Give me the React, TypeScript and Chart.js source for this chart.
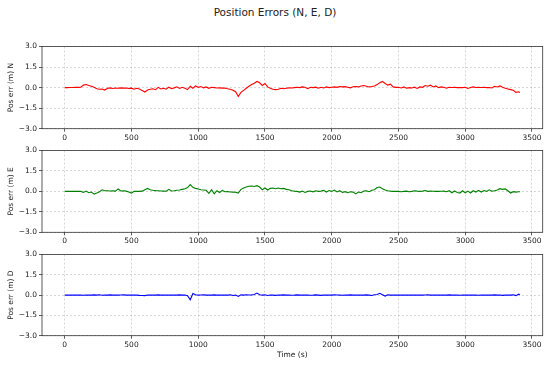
import React, { useEffect, useRef } from 'react';
import { Chart, registerables } from 'chart.js';

Chart.register(...registerables);

const TIME = [
  0, 20, 40, 60, 80, 100, 120, 140, 160, 180,
  200, 220, 240, 260, 280, 300, 320, 340, 360, 380,
  400, 420, 440, 460, 480, 500, 520, 540, 560, 580,
  600, 620, 640, 660, 680, 700, 720, 740, 760, 780,
  800, 820, 840, 860, 880, 900, 920, 940, 960, 980,
  1000, 1020, 1040, 1060, 1080, 1100, 1120, 1140, 1160, 1180,
  1200, 1220, 1240, 1260, 1280, 1300, 1320, 1340, 1360, 1380,
  1400, 1420, 1440, 1460, 1480, 1500, 1520, 1540, 1560, 1580,
  1600, 1620, 1640, 1660, 1680, 1700, 1720, 1740, 1760, 1780,
  1800, 1820, 1840, 1860, 1880, 1900, 1920, 1940, 1960, 1980,
  2000, 2020, 2040, 2060, 2080, 2100, 2120, 2140, 2160, 2180,
  2200, 2220, 2240, 2260, 2280, 2300, 2320, 2340, 2360, 2380,
  2400, 2420, 2440, 2460, 2480, 2500, 2520, 2540, 2560, 2580,
  2600, 2620, 2640, 2660, 2680, 2700, 2720, 2740, 2760, 2780,
  2800, 2820, 2840, 2860, 2880, 2900, 2920, 2940, 2960, 2980,
  3000, 3020, 3040, 3060, 3080, 3100, 3120, 3140, 3160, 3180,
  3200, 3220, 3240, 3260, 3280, 3300, 3320, 3340, 3360, 3380,
  3400, 3410,
];

const ERR_N = [
  0.00, 0.00, 0.01, 0.01, 0.02, 0.02, 0.03, 0.18, 0.22, 0.15,
  0.10, 0.02, -0.08, -0.12, -0.10, -0.18, -0.05, -0.02, -0.06, -0.03,
  -0.05, -0.02, -0.04, -0.03, -0.06, -0.04, -0.12, -0.05, -0.10, -0.22,
  -0.32, -0.18, -0.12, -0.08, -0.15, 0.02, -0.10, -0.05, -0.12, 0.03,
  -0.08, -0.02, 0.06, -0.06, 0.02, -0.05, -0.15, 0.10, -0.05, 0.12,
  0.02, 0.08, -0.02, 0.05, -0.05, 0.02, 0.00, -0.03, -0.02, -0.04,
  -0.03, -0.08, -0.12, -0.20, -0.30, -0.65, -0.35, -0.20, -0.05, 0.10,
  0.22, 0.32, 0.45, 0.35, 0.15, 0.30, 0.05, -0.05, -0.12, -0.15,
  -0.12, -0.05, -0.08, -0.05, -0.02, -0.03, 0.00, 0.02, 0.00, 0.05,
  0.03, -0.08, 0.02, 0.00, 0.03, -0.05, 0.02, -0.03, 0.05, 0.00,
  0.03, 0.05, 0.02, 0.08, 0.05, 0.07, 0.03, -0.02, 0.06, 0.08,
  0.05, 0.12, 0.15, 0.10, 0.05, 0.08, 0.12, 0.22, 0.35, 0.45,
  0.30, 0.18, 0.25, 0.05, 0.02, 0.03, -0.03, 0.05, -0.05, 0.00,
  -0.03, 0.03, -0.06, 0.05, 0.02, 0.15, 0.10, 0.18, 0.05, 0.12,
  0.00, 0.05, 0.02, -0.05, 0.03, 0.01, 0.02, 0.00, 0.01, 0.00,
  0.02, -0.06, 0.01, 0.05, 0.01, 0.02, 0.01, 0.02, 0.00, 0.01,
  -0.03, 0.10, 0.05, 0.12, 0.02, -0.05, -0.10, -0.15, -0.20, -0.35,
  -0.30, -0.35,
];

const ERR_E = [
  0.00, 0.00, 0.00, 0.00, 0.00, 0.01, 0.00, -0.08, 0.02, -0.10,
  -0.05, -0.20, -0.12, -0.02, 0.12, 0.05, 0.05, 0.03, 0.04, 0.02,
  0.18, 0.03, 0.05, 0.02, -0.05, -0.12, 0.00, 0.01, 0.00, 0.02,
  0.12, 0.22, 0.12, 0.08, 0.06, 0.05, 0.03, 0.02, 0.01, 0.15,
  0.03, 0.05, 0.08, 0.10, 0.15, 0.20, 0.28, 0.50, 0.30, 0.22,
  0.18, 0.12, 0.10, 0.08, -0.15, 0.12, -0.18, 0.05, -0.08, 0.08,
  -0.03, -0.02, -0.04, -0.05, -0.06, -0.12, 0.15, 0.25, 0.33, 0.38,
  0.40, 0.36, 0.42, 0.32, 0.12, 0.25, 0.10, 0.22, 0.25, 0.20,
  0.25, 0.20, 0.22, 0.15, 0.12, 0.05, 0.02, 0.00, -0.05, 0.02,
  -0.08, 0.00, 0.03, -0.03, 0.05, 0.00, 0.02, 0.08, -0.05, 0.06,
  0.00, 0.10, -0.04, 0.05, -0.08, -0.02, -0.10, -0.03, -0.05, -0.18,
  -0.05, -0.10, 0.02, 0.05, -0.02, 0.08, 0.12, 0.28, 0.32, 0.20,
  0.10, 0.05, 0.02, 0.00, 0.01, 0.00, -0.02, 0.00, 0.02, -0.03,
  0.00, 0.05, 0.02, 0.00, 0.02, 0.06, 0.00, 0.02, 0.01, 0.00,
  0.00, 0.01, 0.02, -0.02, 0.05, -0.10, 0.03, -0.08, -0.12, 0.05,
  -0.10, 0.02, -0.12, 0.05, -0.05, 0.08, -0.05, 0.06, 0.00, 0.12,
  0.02, 0.05, 0.10, 0.20, 0.15, 0.18, 0.05, -0.12, -0.02, -0.05,
  -0.03, -0.03,
];

const ERR_D = [
  0.00, 0.00, 0.01, 0.00, 0.00, 0.01, 0.00, -0.01, 0.01, 0.00,
  0.00, 0.02, 0.00, 0.03, -0.01, 0.01, 0.00, 0.02, 0.00, 0.01,
  0.00, 0.01, 0.02, 0.00, 0.01, 0.00, 0.01, 0.00, -0.02, -0.03,
  -0.04, 0.01, 0.00, 0.01, 0.00, 0.02, 0.00, 0.01, 0.00, 0.01,
  0.00, 0.01, 0.00, 0.02, 0.00, 0.01, -0.05, -0.35, 0.12, 0.02,
  0.00, 0.01, 0.02, 0.00, 0.01, 0.00, 0.02, 0.00, 0.01, 0.00,
  0.01, 0.00, 0.02, -0.03, 0.00, -0.10, 0.02, 0.00, 0.03, 0.01,
  0.02, 0.05, 0.15, 0.03, 0.00, 0.02, -0.03, 0.01, 0.00, -0.02,
  0.01, 0.00, 0.02, 0.00, 0.01, -0.01, 0.00, 0.02, 0.00, 0.01,
  0.00, 0.01, -0.01, 0.00, 0.02, 0.00, -0.02, 0.01, 0.00, 0.01,
  0.00, 0.02, 0.01, 0.00, -0.01, 0.01, 0.00, 0.02, 0.00, 0.01,
  0.00, 0.01, 0.00, 0.02, 0.00, -0.03, 0.02, 0.05, 0.13, 0.03,
  -0.07, 0.02, 0.00, 0.01, 0.00, 0.01, 0.00, 0.01, 0.00, 0.01,
  0.00, 0.01, 0.00, 0.01, 0.00, 0.01, 0.02, 0.00, 0.01, 0.00,
  0.01, 0.00, 0.01, 0.00, 0.02, 0.00, 0.01, 0.00, -0.01, 0.00,
  0.01, 0.00, 0.01, 0.00, 0.01, -0.01, 0.00, 0.01, 0.00, 0.01,
  0.00, 0.02, 0.00, 0.01, -0.02, 0.00, 0.01, 0.00, 0.02, -0.04,
  0.07, 0.02,
];

const X_TICKS = [0, 500, 1000, 1500, 2000, 2500, 3000, 3500];
const Y_TICKS = [-3, -1.5, 0, 1.5, 3];
const X_MIN = -170.5;
const X_MAX = 3580.5;
const Y_MIN = -3;
const Y_MAX = 3;

const TITLE = 'Position Errors (N, E, D)';
const X_LABEL = 'Time (s)';

const FONT = 'DejaVu Sans';
const TEXT = '#222';
const FONT_SIZE = 7.5;

const framePlugin = {
  id: 'frame',
  afterDraw(chart: any) {
    const { ctx, chartArea: a } = chart;
    ctx.save();
    ctx.strokeStyle = '#333';
    ctx.lineWidth = 0.8;
    ctx.setLineDash([]);
    ctx.strokeRect(a.left, a.top, a.right - a.left, a.bottom - a.top);
    ctx.restore();
  },
};

const fmtY = (v: number) => (v < 0 ? '\u2212' : '') + Math.abs(v).toFixed(1);

type PanelProps = {
  values: number[];
  color: string;
  label: string;
  top: number;
  height: number;
  padTop: number;
  xAxisH: number;
  xTitle?: string;
};

function Panel({ values, color, label, top, height, padTop, xAxisH, xTitle }: PanelProps) {
  const ref = useRef<HTMLCanvasElement>(null);
  useEffect(() => {
    if (!ref.current) return;
    const gridCommon = {
      color: 'rgba(170,170,170,0.6)',
      lineWidth: 0.8,
      tickLength: 3,
      tickColor: '#333',
      tickWidth: 0.8,
      tickBorderDash: [],
    };
    const chart = new Chart(ref.current, {
      type: 'line',
      data: {
        datasets: [
          {
            data: TIME.map((t, i) => ({ x: t, y: values[i] })),
            borderColor: color,
            backgroundColor: color,
            borderWidth: 1.1,
            pointRadius: 0,
            tension: 0,
            fill: false,
          },
        ],
      },
      options: {
        animation: false,
        responsive: false,
        maintainAspectRatio: false,
        layout: { padding: { top: padTop, right: 7.3, left: 0, bottom: 0 } },
        plugins: {
          legend: { display: false },
          tooltip: { enabled: false },
          title: { display: false },
        },
        scales: {
          x: {
            type: 'linear',
            min: X_MIN,
            max: X_MAX,
            afterBuildTicks: (s: any) => {
              s.ticks = X_TICKS.map((v) => ({ value: v }));
            },
            afterFit: (s: any) => {
              s.height = xAxisH;
            },
            ticks: {
              padding: 1.5,
              color: TEXT,
              font: { family: FONT, size: FONT_SIZE },
              maxRotation: 0,
              autoSkip: false,
              callback: (v: any) => String(v),
            },
            grid: gridCommon,
            border: { display: false, dash: [2, 2] },
            title: {
              display: !!xTitle,
              text: xTitle || '',
              color: TEXT,
              font: { family: FONT, size: FONT_SIZE },
              padding: { top: 0, bottom: 8.5 },
            },
          },
          y: {
            type: 'linear',
            min: Y_MIN,
            max: Y_MAX,
            afterBuildTicks: (s: any) => {
              s.ticks = Y_TICKS.map((v) => ({ value: v }));
            },
            afterFit: (s: any) => {
              s.width = 42;
            },
            ticks: {
              padding: 2,
              color: TEXT,
              font: { family: FONT, size: FONT_SIZE },
              callback: (v: any) => fmtY(Number(v)),
            },
            grid: gridCommon,
            border: { display: false, dash: [2, 2] },
            title: {
              display: true,
              text: label,
              color: TEXT,
              font: { family: FONT, size: FONT_SIZE },
              padding: { top: 7, bottom: 0 },
            },
          },
        },
      },
      plugins: [framePlugin],
    } as any);
    return () => chart.destroy();
  }, [values, color, label, padTop, xAxisH, xTitle]);

  return (
    <canvas
      ref={ref}
      width={550}
      height={height}
      style={{ position: 'absolute', left: 0, top, width: 550, height }}
    />
  );
}

export default function App() {
  return (
    <div
      style={{
        position: 'fixed',
        left: 0,
        top: 0,
        width: 550,
        height: 368,
        background: '#fff',
        overflow: 'hidden',
      }}
    >
      <div
        style={{
          position: 'absolute',
          left: 0,
          top: 6.75,
          width: 550,
          textAlign: 'center',
          fontFamily: FONT,
          fontSize: 10.5,
          lineHeight: '10.5px',
          color: TEXT,
          whiteSpace: 'nowrap',
        }}
      >
        {TITLE}
      </div>
      <Panel values={ERR_N} color="#ff0000" label="Pos err (m) N" top={40} height={104} padTop={5.7} xAxisH={15.3} />
      <Panel values={ERR_E} color="#008000" label="Pos err (m) E" top={144} height={104} padTop={5.3} xAxisH={15.7} />
      <Panel values={ERR_D} color="#0000ff" label="Pos err (m) D" top={248} height={120} padTop={5} xAxisH={32.3} xTitle={X_LABEL} />
    </div>
  );
}
